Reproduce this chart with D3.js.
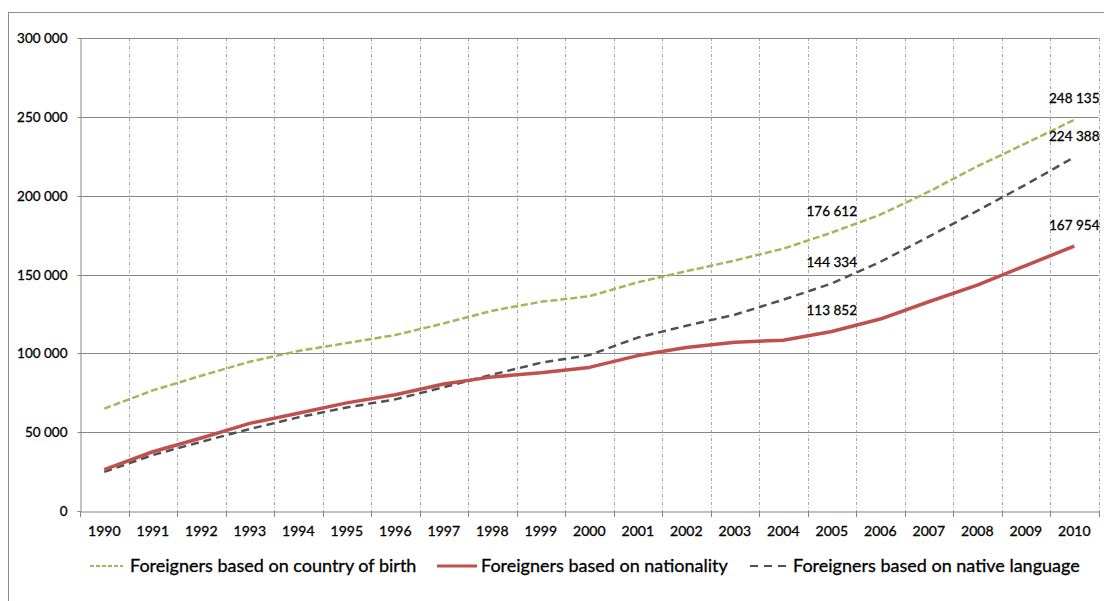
<!DOCTYPE html>
<html><head><meta charset="utf-8">
<script src="https://cdnjs.cloudflare.com/ajax/libs/d3/7.8.5/d3.min.js"></script>
<style>
html,body{margin:0;padding:0;background:#fff;}
svg text{font-family:"Lato","Liberation Sans",sans-serif;fill:#000;stroke:#000;stroke-width:0.3px;}
</style></head>
<body>
<svg id="chart" width="1104" height="601"></svg>
<script>
const years = [1990,1991,1992,1993,1994,1995,1996,1997,1998,1999,2000,2001,2002,2003,2004,2005,2006,2007,2008,2009,2010];
const countryOfBirth = [64922,76500,85800,94700,101500,106500,111600,119000,127000,132700,136203,145074,152079,158867,166361,176612,187910,202528,218626,233183,248135];
const nationality = [26255,37579,46265,55587,62012,68566,73754,80600,85060,87680,91074,98577,103682,107003,108346,113852,121739,132708,143256,155705,167954];
const nativeLanguage = [24783,35500,43900,52000,59400,65700,70800,78500,86500,94000,98900,110000,117500,124500,134000,144334,158000,174000,190400,207000,224388];
const yTicks = [0,50000,100000,150000,200000,250000,300000];
const seriesNames = ["Foreigners based on country of birth","Foreigners based on nationality","Foreigners based on native language"];
const labelledIdx = [15,20];

const svg = d3.select("#chart");
const L = 80, R = 1098.5, T = 38, B = 511;
const x = d3.scaleBand().domain(years).range([L,R]).padding(0);
const y = d3.scaleLinear().domain([0,300000]).range([B,T]);
const cx = d => x(d) + x.bandwidth()/2;
const fmt = v => d3.format(",")(v).replace(/,/g," ");

// outer frame
svg.append("rect").attr("x",8.5).attr("y",12.5).attr("width",1110).attr("height",620)
  .attr("fill","none").attr("stroke","#8c8c8c").attr("stroke-width",1);

// vertical dotted gridlines at category boundaries
svg.append("g").selectAll("line").data(years.slice(1).concat(["end"])).join("line")
  .attr("x1",(d,i)=>Math.round(L + (i+1)*x.bandwidth())+0.5)
  .attr("x2",(d,i)=>Math.round(L + (i+1)*x.bandwidth())+0.5)
  .attr("y1",T).attr("y2",B)
  .attr("stroke","#a6a6a6").attr("stroke-width",1).attr("stroke-dasharray","3,2,1,2");

// horizontal gridlines + y axis
const yAxis = d3.axisLeft(y).tickValues(yTicks).tickSize(3).tickPadding(10).tickFormat(fmt);
const gy = svg.append("g").attr("transform",`translate(${L+0.5},0)`).call(yAxis);
gy.select(".domain").attr("stroke","#868686");
gy.selectAll(".tick line").attr("stroke","#868686");
gy.selectAll(".tick text").attr("font-size",13.5).attr("fill","#000");
gy.selectAll(".tick").attr("transform",d=>`translate(0,${Math.round(y(d))+0.5})`);
svg.append("g").selectAll("line").data(yTicks.filter(d=>d>0)).join("line")
  .attr("x1",L).attr("x2",R).attr("y1",d=>Math.round(y(d))+0.5).attr("y2",d=>Math.round(y(d))+0.5)
  .attr("stroke","#868686").attr("stroke-width",1);

// x axis
const xAxis = d3.axisBottom(x).tickSize(0).tickPadding(15);
const gx = svg.append("g").attr("transform",`translate(0,${B+0.5})`).call(xAxis);
gx.select(".domain").attr("stroke","#868686");
gx.selectAll(".tick text").attr("font-size",14).attr("fill","#000");
svg.append("g").selectAll("line").data(d3.range(years.length+1)).join("line")
  .attr("x1",i=>Math.round(L+i*x.bandwidth())+0.5).attr("x2",i=>Math.round(L+i*x.bandwidth())+0.5)
  .attr("y1",B).attr("y2",B+6).attr("stroke","#868686");

// lines
const series = [
  {name:seriesNames[0], values:countryOfBirth, color:"#9BBB59", width:2.5, dash:"7,3", lDash:"4,2", lWidth:2},
  {name:seriesNames[1], values:nationality, color:"#C0504D", width:3.5, dash:null, lDash:null, lWidth:3},
  {name:seriesNames[2], values:nativeLanguage, color:"#505050", width:2.5, dash:"8,5", lDash:"8,6", lWidth:2}
];
const line = d3.line().x((d,i)=>cx(years[i])).y(d=>y(d));
[2,0,1].forEach(k=>{
  const s = series[k];
  svg.append("path").datum(s.values).attr("d",line).attr("fill","none")
    .attr("stroke",s.color).attr("stroke-width",s.width)
    .attr("stroke-dasharray",s.dash).attr("stroke-linejoin","round");
});

// data labels
series.forEach(s=>{
  labelledIdx.forEach(i=>{
    svg.append("text").attr("x",cx(years[i])).attr("y",y(s.values[i])-21)
      .attr("dy","0.35em").attr("text-anchor","middle").attr("font-size",13.5)
      .text(fmt(s.values[i]));
  });
});

// legend
const legendPos = [{x1:90,x2:123,tx:130},{x1:437,x2:477,tx:481},{x1:750,x2:788,tx:793}];
const ly = 566;
series.forEach((s,i)=>{
  const p = legendPos[i];
  svg.append("line").attr("x1",p.x1).attr("x2",p.x2).attr("y1",ly).attr("y2",ly)
    .attr("stroke",s.color).attr("stroke-width",s.lWidth).attr("stroke-dasharray",s.lDash);
  svg.append("text").attr("x",p.tx).attr("y",ly).attr("dy","0.35em").attr("font-size",18).text(s.name);
});
</script>
</body></html>
